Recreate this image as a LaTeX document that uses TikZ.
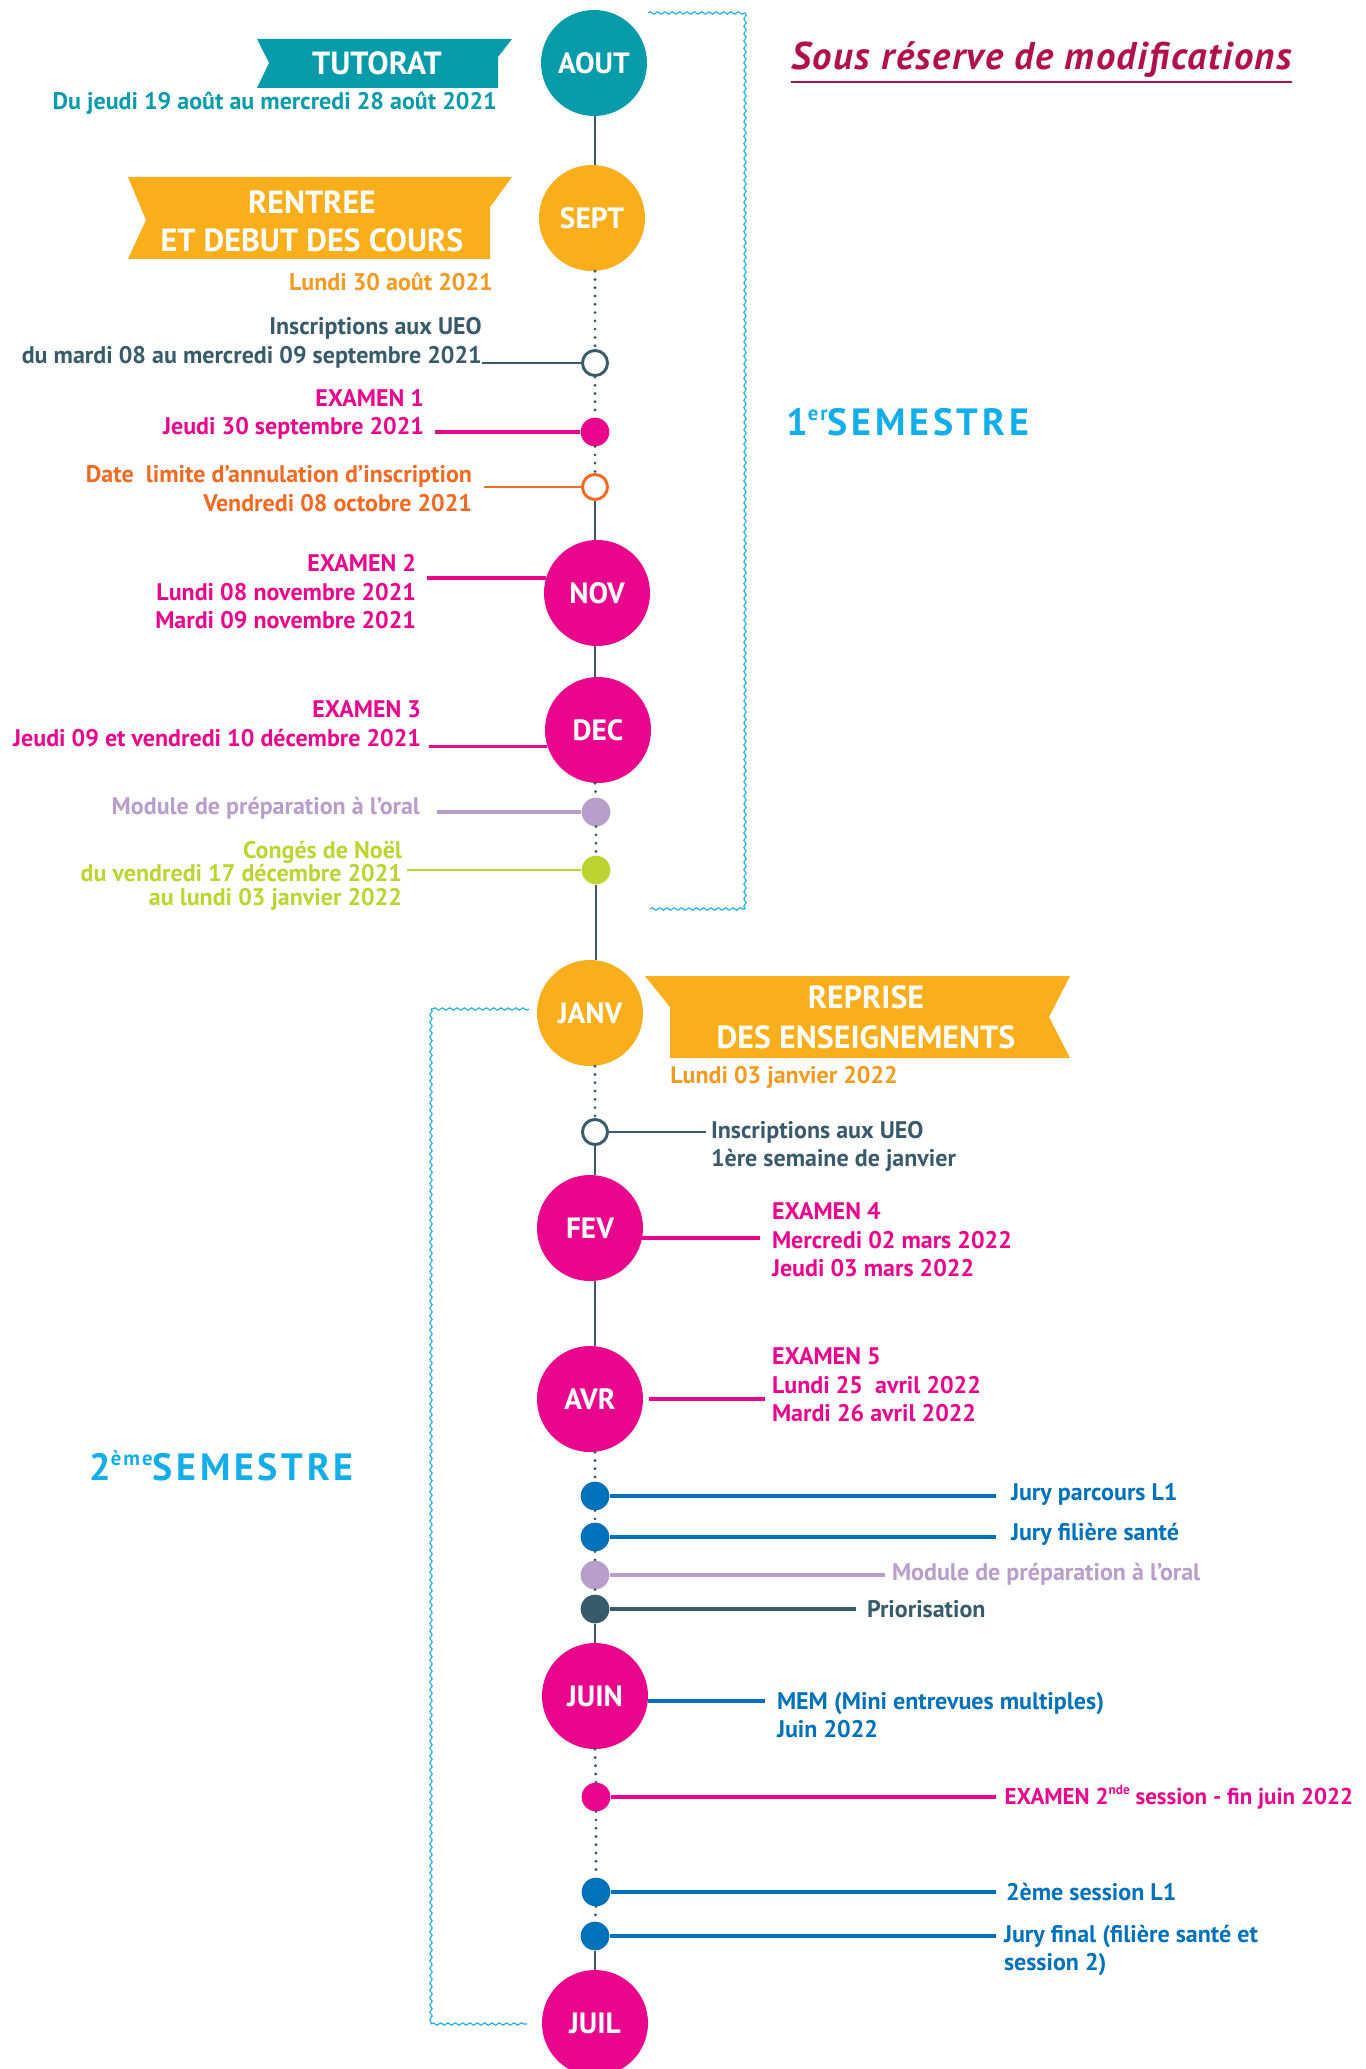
\documentclass[tikz,border=0pt]{standalone}
\usepackage{fontspec}
\setmainfont{PT Sans}
\usetikzlibrary{decorations.pathmorphing,calc}
\definecolor{cTeal}{HTML}{089CAB}
\definecolor{cOrange}{HTML}{F9AF1C}
\definecolor{cOrangeT}{HTML}{F39A1F}
\definecolor{cSlate}{HTML}{385B6C}
\definecolor{cMag}{HTML}{EA068C}
\definecolor{cRed}{HTML}{F26A21}
\definecolor{cLav}{HTML}{B99DCA}
\definecolor{cLime}{HTML}{BCD531}
\definecolor{cBlue}{HTML}{0071BB}
\definecolor{cCyan}{HTML}{12AEEA}
\definecolor{cCrim}{HTML}{B1104F}
\tikzset{
  month/.style={circle, fill=#1, minimum size=79.5pt, inner sep=0pt, text=white,
    font=\bfseries\fontsize{22pt}{22pt}\selectfont},
  ringdot/.style={circle, draw=#1, line width=2.2pt, fill=white, minimum size=18.8pt, inner sep=0pt},
  fulldot/.style={circle, fill=#1, minimum size=21.5pt, inner sep=0pt},
  axisline/.style={cSlate, line width=2.2pt},
  axisdots/.style={cSlate, line width=2.4pt, line cap=round, dash pattern=on 0pt off 6.2pt},
  lbl/.style={text=#1, font=\bfseries\fontsize{18pt}{21.4pt}\selectfont, inner sep=0pt, outer ysep=0pt},
  conn/.style={#1, line width=2.2pt},
  thinconn/.style={#1, line width=1.8pt},
  thickconn/.style={#1, line width=2.8pt},
  bannertext/.style={text=white, font=\bfseries\fontsize{24pt}{28.5pt}\selectfont, align=center, inner sep=0pt},
  wavy/.style={cCyan, line width=0.8pt, decorate, decoration={snake, amplitude=0.9pt, segment length=5.5pt}},
  semtitle/.style={text=cCyan, font=\bfseries\fontsize{28.5pt}{28.5pt}\selectfont\addfontfeatures{LetterSpace=10}, inner sep=0pt},
}
\begin{document}
\begin{tikzpicture}[x=0.75pt,y=-0.75pt]
\fill[white] (0,0) rectangle (1365,2069);
\useasboundingbox (0,0) rectangle (1365,2069);
\coordinate (ax) at (595,0);

% ---------- title ----------
\node[anchor=base west, text=cCrim, font=\bfseries\itshape\fontsize{29pt}{29pt}\selectfont\addfontfeatures{LetterSpace=4}, inner sep=0pt] (reserve) at (791,69.5) {Sous réserve de modifications};
\draw[cCrim, line width=1.9pt] ([yshift=-9.4pt]reserve.base west) -- ([yshift=-9.4pt]reserve.base east);

% ---------- semester brackets ----------
\coordinate (b1a) at (648,13);
\coordinate (b1b) at (745,13);
\coordinate (b1c) at (745,909);
\coordinate (b1d) at (650,909);
\draw[wavy] (b1a) -- (b1b);
\draw[wavy] (b1b) -- (b1c);
\draw[wavy] (b1d) -- (b1c);
\coordinate (b2a) at (529,1009);
\coordinate (b2b) at (431,1009);
\coordinate (b2c) at (431,2024);
\coordinate (b2d) at (527,2024);
\draw[wavy] (b2a) -- (b2b);
\draw[wavy] (b2b) -- (b2c);
\draw[wavy] (b2c) -- (b2d);
\node[semtitle, anchor=base west] (sem1) at (786,435) {1\raisebox{11pt}{\fontsize{15.5pt}{15.5pt}\selectfont er}SEMESTRE};
\node[semtitle, anchor=base west] (sem2) at (89,1480) {2\raisebox{11pt}{\fontsize{15.5pt}{15.5pt}\selectfont ème}SEMESTRE};

% ---------- banners ----------
\fill[cTeal] (257,39) -- (512,39) -- (498,57) -- (498,88) -- (257,88) -- (269,63) -- cycle;
\node[bannertext] (tutorat) at (377,63) {TUTORAT};
\node[lbl=cTeal, anchor=east] (tut_d) at (497,103) {Du jeudi 19 août au mercredi 28 août 2021};

\fill[cOrange] (128,177) -- (512,177) -- (490,207) -- (490,259) -- (128,259) -- (146,220) -- cycle;
\node[bannertext] (rentree) at (312,221) {RENTREE\\ET DEBUT DES COURS};
\node[lbl=cOrangeT, anchor=east] (rentree_d) at (493,282) {Lundi 30 août 2021};

\fill[cOrange] (645,976) -- (1070,976) -- (1049,1017) -- (1070,1058) -- (670,1058) -- (670,1007) -- cycle;
\node[bannertext, font=\bfseries\fontsize{24pt}{30pt}\selectfont] (reprise) at (866,1017) {REPRISE\\DES ENSEIGNEMENTS};
\node[lbl=cOrangeT, anchor=west] (reprise_d) at (670,1077) {Lundi 03 janvier 2022};

% ---------- months ----------
\node[month=cTeal] (aout) at (594,63) {AOUT};
\node[month=cOrange] (sept) at (592,218) {SEPT};
\node[month=cMag] (nov) at (597,593) {NOV};
\node[month=cMag] (dec) at (598,730) {DEC};
\node[month=cOrange] (janv) at (590,1013) {JANV};
\node[month=cMag] (fev) at (590,1228) {FEV};
\node[month=cMag] (avr) at (590,1399) {AVR};
\node[month=cMag] (juin) at (595,1696) {JUIN};
\node[month=cMag] (juil) at (595,2023) {JUIL};

% ---------- small events ----------
\node[ringdot=cSlate] (ins1) at (595,363) {};
\node[fulldot=cMag] (ex1) at (595,432) {};
\node[ringdot=cRed] (lim) at (595,487) {};
\node[fulldot=cLav] (mod1) at (596,812) {};
\node[fulldot=cLime] (noel) at (596,870) {};
\node[ringdot=cSlate] (ins2) at (595,1132) {};
\node[fulldot=cBlue] (jury1) at (595,1496) {};
\node[fulldot=cBlue] (jury2) at (595,1537) {};
\node[fulldot=cLav] (mod2) at (595,1575) {};
\node[fulldot=cSlate] (prio) at (595,1609) {};
\node[fulldot=cMag] (ex2s) at (596,1797) {};
\node[fulldot=cBlue] (sess2) at (596,1892) {};
\node[fulldot=cBlue] (juryf) at (595,1936) {};

% ---------- axis ----------
\draw[axisline] (aout.south -| ax) -- (sept.north -| ax);
\draw[axisdots] (sept.south -| ax) -- (ins1.north);
\draw[axisdots] (ins1.south) -- (ex1.north);
\draw[axisdots] (ex1.south) -- (lim.north);
\draw[axisline] (lim.south) -- (nov.north -| ax);
\draw[axisline] (nov.south -| ax) -- (dec.north -| ax);
\draw[axisdots] (dec.south -| ax) -- (mod1.north);
\draw[axisdots] (mod1.south) -- (noel.north);
\draw[axisline] (noel.south) -- (janv.north -| noel);
\draw[axisdots] (janv.south -| ax) -- (ins2.north);
\draw[axisline] (ins2.south) -- (fev.north -| ax);
\draw[axisline] (fev.south -| ax) -- (avr.north -| ax);
\draw[axisdots] (avr.south -| ax) -- (jury1.north);
\draw[axisdots] (jury1.south) -- (jury2.north);
\draw[axisdots] (jury2.south) -- (mod2.north);
\draw[axisdots] (mod2.south) -- (prio.north);
\draw[axisline] (prio.south) -- (juin.north -| ax);
\draw[axisdots] (juin.south -| ax) -- (ex2s.north);
\draw[axisdots] (ex2s.south) -- (sess2.north);
\draw[axisdots] (sess2.south) -- (juryf.north);
\draw[axisline] (juryf.south) -- (juil.north -| ax);

% ---------- left labels ----------
\node[lbl=cSlate, anchor=east, align=right] (t_ins1) at (482,343) {Inscriptions aux UEO\\du mardi 08 au mercredi 09 septembre 2021};
\node[lbl=cMag, anchor=east, align=right, outer xsep=8.25pt] (t_ex1) at (435,414.5) {EXAMEN 1\\Jeudi 30 septembre 2021};
\node[lbl=cRed, anchor=east, align=right, outer xsep=9pt] (t_lim) at (484,488.5) {Date\ \ limite d’annulation d’inscription\\Vendredi 08 octobre 2021};
\node[lbl=cMag, anchor=east, align=right, outer xsep=8.25pt] (t_ex2) at (427,591.7) {EXAMEN 2\\Lundi 08 novembre 2021\\Mardi 09 novembre 2021};
\node[lbl=cMag, anchor=east, align=right, outer xsep=6pt] (t_ex3) at (429,723.5) {EXAMEN 3\\Jeudi 09 et vendredi 10 décembre 2021};
\node[lbl=cLav, anchor=east, outer xsep=12.75pt] (t_mod1) at (437,808) {Module de préparation à l’oral};
\node[lbl=cLime, anchor=east, align=right, outer xsep=3.75pt, font=\bfseries\fontsize{18pt}{17.6pt}\selectfont] (t_noel) at (407,875.7) {Congés de Noël\\du vendredi 17 décembre 2021\\au lundi 03 janvier 2022};

\draw[conn=cSlate] (ins1.west) -- (ins1.west -| t_ins1.east);
\draw[thickconn=cMag] (ex1.west) -- (ex1.west -| t_ex1.east);
\draw[conn=cRed] (lim.west) -- (lim.west -| t_lim.east);
\draw[thickconn=cMag] (nov.164) -- (nov.164 -| t_ex2.east);
\draw[thickconn=cMag] (dec.198) -- (dec.198 -| t_ex3.east);
\draw[thickconn=cLav] (mod1.west) -- (mod1.west -| t_mod1.east);
\draw[thinconn=cLime] (noel.west) -- (noel.west -| t_noel.east);

% ---------- right labels ----------
\node[lbl=cSlate, anchor=west, align=left, outer xsep=3.75pt] (t_ins2) at (706,1146.5) {Inscriptions aux UEO\\1ère semaine de janvier};
\node[lbl=cMag, anchor=west, align=left, outer xsep=9pt] (t_fev) at (760,1240) {EXAMEN 4\\Mercredi 02 mars 2022\\Jeudi 03 mars 2022};
\node[lbl=cMag, anchor=west, align=left, outer xsep=5.25pt] (t_avr) at (765,1385) {EXAMEN 5\\Lundi 25\ \ avril 2022\\Mardi 26 avril 2022};
\node[lbl=cBlue, anchor=west, outer xsep=11.25pt] (t_jury1) at (996,1494) {Jury parcours L1};
\node[lbl=cBlue, anchor=west, outer xsep=11.25pt] (t_jury2) at (996,1534) {Jury filière santé};
\node[lbl=cLav, anchor=west, outer xsep=5.25pt] (t_mod2) at (885,1574) {Module de préparation à l’oral};
\node[lbl=cSlate, anchor=west, outer xsep=8.25pt] (t_prio) at (856,1609) {Priorisation};
\node[lbl=cBlue, anchor=west, align=left, outer xsep=9pt] (t_mem) at (765,1715) {MEM (Mini entrevues multiples)\\Juin 2022};
\node[lbl=cMag, anchor=west, outer xsep=6.5pt, font=\bfseries\fontsize{17.2pt}{21.4pt}\selectfont] (t_ex2s) at (996,1797) {EXAMEN 2\raisebox{0.45em}{\fontsize{10pt}{10pt}\selectfont nde} session - fin juin 2022};
\node[lbl=cBlue, anchor=west, outer xsep=7.5pt] (t_sess2) at (996,1892) {2ème session L1};
\node[lbl=cBlue, anchor=west, align=left, outer xsep=6pt] (t_juryf) at (996,1950.5) {Jury final (filière santé et\\session 2)};

\draw[conn=cSlate] (ins2.east) -- (ins2.east -| t_ins2.west);
\draw[thickconn=cMag] (fev.-11) -- (fev.-11 -| t_fev.west);
\draw[thickconn=cMag] ([xshift=4.5pt]avr.east) -- (avr.east -| t_avr.west);
\draw[thickconn=cBlue] (jury1.east) -- (jury1.east -| t_jury1.west);
\draw[thickconn=cBlue] (jury2.east) -- (jury2.east -| t_jury2.west);
\draw[thickconn=cLav] (mod2.east) -- (mod2.east -| t_mod2.west);
\draw[thickconn=cSlate] (prio.east) -- (prio.east -| t_prio.west);
\draw[thickconn=cBlue] (juin.-5) -- (juin.-5 -| t_mem.west);
\draw[thickconn=cMag] (ex2s.east) -- (ex2s.east -| t_ex2s.west);
\draw[thickconn=cBlue] (sess2.east) -- (sess2.east -| t_sess2.west);
\draw[thickconn=cBlue] (juryf.east) -- (juryf.east -| t_juryf.west);
\end{tikzpicture}
\end{document}
